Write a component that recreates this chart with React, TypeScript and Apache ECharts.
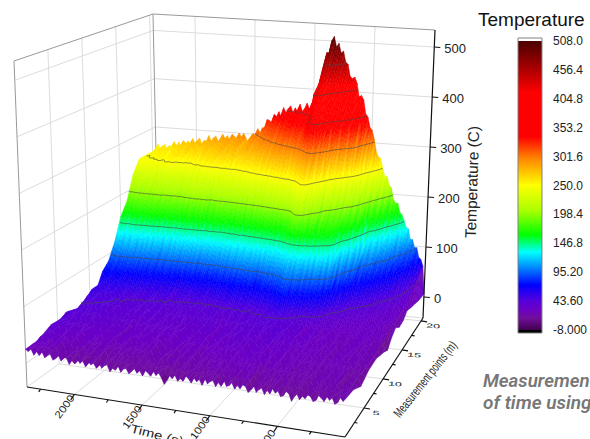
import React, { useEffect, useRef } from "react";
import * as echarts from "echarts";

const times = [0, 25, 100, 200, 300, 400, 500, 600, 700, 800, 850, 900, 960, 1000, 1100, 1200, 1300, 1400, 1500, 1650, 1800, 1950, 2100, 2250, 2350];
const points = [0, 2, 4, 6, 8, 10, 11, 12, 13, 14, 15, 16, 17, 18, 19, 20.5];
// one row per time, one value per measurement point
const temperature = [
  [21, 15, 11, 12, 13, 14, 15, 15, 16, 17, 18, 19, 20, 18, 12, 12],
  [20, 20, 20, 21, 22, 22, 24, 24, 25, 26, 28, 30, 34, 40, 50, 68],
  [18, 21, 22, 24, 25, 26, 28, 28, 30, 32, 35, 42, 50, 60, 74, 100],
  [16, 22, 24, 26, 26, 28, 30, 31, 34, 38, 42, 54, 68, 82, 100, 148],
  [15, 20, 22, 24, 25, 27, 29, 31, 36, 43, 56, 70, 86, 110, 138, 200],
  [14, 20, 23, 25, 26, 28, 30, 34, 40, 52, 68, 86, 112, 145, 188, 250],
  [15, 21, 24, 27, 28, 30, 34, 40, 58, 78, 102, 140, 172, 204, 240, 320],
  [15, 22, 26, 29, 32, 36, 42, 62, 87, 130, 160, 178, 198, 248, 320, 398],
  [15, 23, 27, 30, 34, 38, 44, 70, 98, 142, 165, 192, 232, 288, 365, 440],
  [16, 25, 29, 33, 37, 41, 50, 80, 112, 148, 192, 240, 292, 350, 402, 495],
  [15, 24, 29, 33, 38, 43, 58, 85, 112, 150, 228, 270, 312, 398, 432, 505],
  [16, 24, 28, 33, 37, 42, 58, 86, 112, 150, 230, 272, 310, 400, 430, 462],
  [16, 23, 28, 33, 38, 43, 50, 70, 98, 138, 182, 244, 290, 326, 346, 399],
  [16, 24, 28, 33, 37, 42, 47, 68, 96, 132, 172, 238, 280, 318, 338, 372],
  [15, 22, 27, 31, 36, 41, 46, 66, 90, 125, 165, 226, 272, 304, 336, 356],
  [14, 22, 26, 31, 35, 40, 45, 64, 88, 122, 160, 214, 262, 292, 322, 358],
  [15, 21, 27, 30, 35, 40, 45, 62, 85, 118, 156, 208, 252, 280, 306, 345],
  [15, 22, 26, 31, 34, 40, 44, 60, 82, 115, 152, 203, 244, 268, 288, 322],
  [15, 21, 26, 30, 34, 40, 43, 57, 78, 110, 147, 198, 236, 262, 280, 300],
  [14, 21, 27, 31, 35, 40, 44, 56, 78, 108, 148, 198, 232, 260, 276, 292],
  [15, 22, 28, 32, 36, 41, 45, 58, 80, 110, 150, 198, 228, 258, 272, 287],
  [16, 23, 29, 33, 37, 42, 47, 60, 82, 110, 150, 192, 222, 246, 264, 279],
  [17, 25, 30, 34, 38, 44, 50, 64, 84, 112, 155, 195, 222, 250, 262, 271],
  [20, 28, 34, 38, 42, 47, 54, 68, 88, 118, 158, 194, 225, 246, 254, 262],
  [24, 32, 38, 41, 43, 50, 55, 70, 86, 115, 152, 190, 222, 242, 249, 255],
];
// scatter along time (C), estimated from the jagged edges, time step 2350/118
const roughness = [
  2, -3, 4, -6, -9, 3, -2, 5, -5, 1, 6, -4, -7, 2, 5, -3, 1, -6, 4, -2,
  -11, 3, 6, -3, -6, 4, -1, 7, -4, 2, -7, 5, 1, -5, 8, -2, -8, 3, 5, -4,
  2, -6, 6, 0, -3, 9, -5, 2, -7, 4, 1, -4, 6, -8, 3, -2, 5, -6, 2, 7,
  -4, 0, -6, 5, -3, 2, -9, -17, -5, 4, -2, 6, -5, 1, 5, -7, 3, -3, 6, -1,
  -6, 4, 2, -5, 7, -3, 0, -8, 5, 2, -4, 6, -6, 3, -1, 5, -7, 4, -2, 6,
  -5, 1, -8, 4, 3, -4, 7, -2, -6, 5, 0, -5, 6, -3, 3, -6, 5, -2, 1,
];

const timeTicks = [500, 1000, 1500, 2000];
const timeMinor = [250, 750, 1250, 1750, 2250];
const pointTicks = [5, 10, 15, 20];
const pointMinor = [2.5, 7.5, 12.5, 17.5];
const tempTicks = [0, 100, 200, 300, 400, 500];
const contourLevels = [43.6, 95.2, 146.8, 198.4, 250, 301.6, 353.2, 404.8, 456.4];
const barTicks = [-8, 43.6, 95.2, 146.8, 198.4, 250, 301.6, 353.2, 404.8, 456.4, 508];
const barLabels = ["-8.000", "43.60", "95.20", "146.8", "198.4", "250.0", "301.6", "353.2", "404.8", "456.4", "508.0"];

const rampValues = [-8, 13, 28, 45, 72, 100, 131, 162, 205, 251, 300, 337, 415, 508];
const rampColors = ["#40004f", "#700f9a", "#6c00c4", "#5400dc", "#0000ff", "#0078ff", "#00ffff", "#00ff00", "#aaff00", "#ffff00", "#ff8000", "#ff0000", "#ff0000", "#4a0000"];

const T_MAX = 2350;
const V_MAX = 20.5;
const Z_MIN = -42;
const Z_MAX = 534;

// screen corners of the 3D box: [time end, point end]
const floorCorners = { f0: [345, 437], f1: [27, 387], b0: [423, 318], b1: [159, 292] };
const topCorners = { f0: [352, 97], f1: [14, 61], b0: [435, 30], b1: [153, 14] };

function project(t: number, v: number, temp: number): number[] {
  const u = t / T_MAX;
  const w = v / V_MAX;
  const z = (temp - Z_MIN) / (Z_MAX - Z_MIN);
  const bil = (c: any, k: number) =>
    (1 - u) * (1 - w) * c.f0[k] + u * (1 - w) * c.f1[k] + (1 - u) * w * c.b0[k] + u * w * c.b1[k];
  return [0, 1].map((k) => bil(floorCorners, k) * (1 - z) + bil(topCorners, k) * z);
}

const rgbs = rampColors.map((c) => [1, 3, 5].map((i) => parseInt(c.slice(i, i + 2), 16)));
function colorOf(val: number): string {
  const x = Math.max(-8, Math.min(508, val));
  let i = 0;
  while (i < rampValues.length - 2 && x > rampValues[i + 1]) i++;
  const f = (x - rampValues[i]) / (rampValues[i + 1] - rampValues[i]);
  const c = rgbs[i].map((a, k) => Math.round(a + (rgbs[i + 1][k] - a) * f));
  return `rgb(${c[0]},${c[1]},${c[2]})`;
}

// drawing grid: the table read along time at the steps of the roughness list
const STEPS = roughness.length - 1;
const drawTime = (k: number) => (k / STEPS) * T_MAX;
function tableAt(t: number, j: number): number {
  let i = 0;
  while (i < times.length - 2 && t > times[i + 1]) i++;
  const f = (t - times[i]) / (times[i + 1] - times[i]);
  return temperature[i][j] + (temperature[i + 1][j] - temperature[i][j]) * f;
}
function fieldAt(k: number, j: number, share: number): number {
  const b = tableAt(drawTime(k), j);
  const r = roughness[(k + j * 31) % roughness.length];
  return Math.max(-5, b + r * share * (0.85 + b / 900));
}

function lineSeries(segs: number[][], color: string, width: number) {
  return {
    type: "custom",
    coordinateSystem: "none",
    silent: true,
    data: segs,
    renderItem: (_p: any, api: any) => ({
      type: "line",
      shape: { x1: api.value(0), y1: api.value(1), x2: api.value(2), y2: api.value(3) },
      style: { stroke: color, lineWidth: width, fill: "none" },
    }),
  };
}

function seg(a: number[], b: number[]) {
  return [a[0], a[1], b[0], b[1]];
}

function buildOption() {
  // walls and floor
  const grid: number[][] = [];
  for (const t of timeTicks) {
    grid.push(seg(project(t, 0, Z_MIN), project(t, V_MAX, Z_MIN)));
    grid.push(seg(project(t, V_MAX, Z_MIN), project(t, V_MAX, Z_MAX)));
  }
  for (const v of pointTicks) {
    grid.push(seg(project(0, v, Z_MIN), project(T_MAX, v, Z_MIN)));
    grid.push(seg(project(T_MAX, v, Z_MIN), project(T_MAX, v, Z_MAX)));
  }
  for (const z of tempTicks) {
    grid.push(seg(project(T_MAX, 0, z), project(T_MAX, V_MAX, z)));
    grid.push(seg(project(T_MAX, V_MAX, z), project(0, V_MAX, z)));
  }
  grid.push(seg(project(T_MAX, 0, Z_MIN), project(T_MAX, V_MAX, Z_MIN)));
  grid.push(seg(project(T_MAX, V_MAX, Z_MIN), project(0, V_MAX, Z_MIN)));

  const frame = [
    seg(project(T_MAX, 0, Z_MIN), project(T_MAX, 0, Z_MAX)),
    seg(project(T_MAX, V_MAX, Z_MIN), project(T_MAX, V_MAX, Z_MAX)),
    seg(project(T_MAX, 0, Z_MAX), project(T_MAX, V_MAX, Z_MAX)),
    seg(project(T_MAX, V_MAX, Z_MAX), project(0, V_MAX, Z_MAX)),
  ];

  // axis lines with ticks
  const axes: number[][] = [
    seg(project(T_MAX, 0, Z_MIN), project(0, 0, Z_MIN)),
    seg(project(0, 0, Z_MIN), project(0, V_MAX, Z_MIN)),
    seg(project(0, V_MAX, Z_MIN), project(0, V_MAX, Z_MAX)),
  ];
  const tickT = (t: number, k: number) => {
    const a = project(t, 0, Z_MIN);
    return seg(a, [a[0] - 3.6 * k, a[1] + 5.4 * k]);
  };
  const tickV = (v: number, k: number) => {
    const a = project(0, v, Z_MIN);
    return seg(a, [a[0] + 6 * k, a[1] + 1 * k]);
  };
  timeTicks.forEach((t) => axes.push(tickT(t, 1)));
  timeMinor.forEach((t) => axes.push(tickT(t, 0.5)));
  pointTicks.forEach((v) => axes.push(tickV(v, 1)));
  pointMinor.forEach((v) => axes.push(tickV(v, 0.5)));
  tempTicks.forEach((z) => {
    const a = project(0, V_MAX, z);
    axes.push(seg(a, [a[0] + 6, a[1] + 0.5]));
  });

  // surface cells, far row first
  const cells: number[][] = [];
  for (let j = points.length - 2; j >= 0; j--) {
    for (let k = STEPS - 1; k >= 0; k--) cells.push([k, j]);
  }
  const surface = {
    type: "custom",
    coordinateSystem: "none",
    silent: true,
    data: cells,
    renderItem: (_p: any, api: any) => {
      const k = api.value(0);
      const j = api.value(1);
      const q00 = fieldAt(k, j, 1);
      const q10 = fieldAt(k + 1, j, 1);
      const q01 = fieldAt(k, j + 1, 1);
      const q11 = fieldAt(k + 1, j + 1, 1);
      const spread = Math.max(q00, q10, q01, q11) - Math.min(q00, q10, q01, q11);
      const nv = Math.max(1, Math.min(12, Math.ceil(spread / 9)));
      const at = (a: number, b: number) => {
        const val = (1 - a) * (1 - b) * q00 + a * (1 - b) * q10 + (1 - a) * b * q01 + a * b * q11;
        const t = drawTime(k) + (drawTime(k + 1) - drawTime(k)) * a;
        const v = points[j] + (points[j + 1] - points[j]) * b;
        return { p: project(t, v, val), val };
      };
      const children: any[] = [];
      for (let b = nv - 1; b >= 0; b--) {
        const c = colorOf(at(0.5, (b + 0.5) / nv).val);
        children.push({
          type: "polygon",
          shape: { points: [at(0, b / nv).p, at(1, b / nv).p, at(1, (b + 1) / nv).p, at(0, (b + 1) / nv).p] },
          style: { fill: c, stroke: c, lineWidth: 0.5 },
        });
      }
      return { type: "group", children };
    },
  };

  // contour segments
  const contourSegs: number[][] = [];
  for (let k = 0; k < STEPS; k++) {
    for (let j = 0; j < points.length - 1; j++) {
      const c = [
        [drawTime(k), points[j], fieldAt(k, j, 0.22)],
        [drawTime(k + 1), points[j], fieldAt(k + 1, j, 0.22)],
        [drawTime(k + 1), points[j + 1], fieldAt(k + 1, j + 1, 0.22)],
        [drawTime(k), points[j + 1], fieldAt(k, j + 1, 0.22)],
      ];
      for (const lv of contourLevels) {
        const hits: number[][] = [];
        for (let e = 0; e < 4; e++) {
          const a = c[e];
          const b = c[(e + 1) % 4];
          if ((a[2] < lv) !== (b[2] < lv)) {
            const f = (lv - a[2]) / (b[2] - a[2]);
            hits.push(project(a[0] + (b[0] - a[0]) * f, a[1] + (b[1] - a[1]) * f, lv));
          }
        }
        if (hits.length >= 2) contourSegs.push(seg(hits[0], hits[1]));
        if (hits.length === 4) contourSegs.push(seg(hits[2], hits[3]));
      }
    }
  }

  // texts
  const sans = "'Liberation Sans', Arial, sans-serif";
  const graphic: any[] = [];
  const text = (s: string, x: number, y: number, size: number, extra: any = {}, style: any = {}) =>
    graphic.push({
      type: "text",
      x,
      y,
      silent: true,
      ...extra,
      style: { text: s, font: `${size}px ${sans}`, fill: "#222", align: "center", verticalAlign: "middle", ...style },
    });
  tempTicks.forEach((z) => {
    const a = project(0, V_MAX, z);
    text(String(z), a[0] + 10, a[1] + 1, 13, {}, { align: "left" });
  });
  timeTicks.forEach((t) => {
    const a = project(t, 0, Z_MIN);
    text(String(t), a[0] - 10, a[1] + 12, 13, { rotation: 0.95, scaleX: 0.9, scaleY: 0.8 });
  });
  pointTicks.forEach((v) => {
    const a = project(0, v, Z_MIN);
    text(String(v), a[0] + 12, a[1] + 5, 10, { scaleX: 1.25, scaleY: 0.6, rotation: -0.08 });
  });
  text("Time (s)", 157, 435, 15, { rotation: -0.25, scaleX: 1, scaleY: 0.8 });
  text("Measurement points (m)", 425, 379, 13, { rotation: 0.9, scaleX: 0.66, scaleY: 1 });
  text("Temperature (C)", 472, 182, 15.4, { rotation: Math.PI / 2 - 0.03 });
  text("Temperature", 478, 19, 19, {}, { align: "left", fill: "#111" });
  text("Measuremen", 483, 381, 19, {}, { align: "left", font: "italic 600 18.7px Roboto, sans-serif", fill: "#777" });
  text("of time using", 483, 402, 19, {}, { align: "left", font: "italic 600 19px Roboto, sans-serif", fill: "#777" });

  return {
    animation: false,
    backgroundColor: "#fff",
    grid: { left: 518, top: 41, width: 28, height: 289, containLabel: false },
    xAxis: { type: "value", min: 0, max: 1, show: false },
    yAxis: {
      type: "value",
      position: "right",
      min: -8,
      max: 508,
      axisLine: { show: false },
      splitLine: { show: false },
      axisTick: { show: true, customValues: barTicks, length: 7, lineStyle: { color: "#555", width: 1 } },
      axisLabel: {
        show: true,
        customValues: barTicks,
        margin: 11,
        color: "#222",
        fontSize: 12,
        fontFamily: "Liberation Sans",
        formatter: (v: number) => barLabels[barTicks.indexOf(v)],
      },
    },
    graphic,
    series: [
      lineSeries(grid, "#dcdcdc", 1),
      lineSeries(frame, "#999999", 1),
      surface,
      lineSeries(contourSegs, "rgba(70,70,70,0.75)", 0.8),
      lineSeries(axes, "#111111", 1.2),
      {
        type: "custom",
        silent: true,
        clip: false,
        data: [[0, 508, 1, -8]],
        renderItem: (_p: any, api: any) => {
          const a = api.coord([api.value(0), api.value(1)]);
          const b = api.coord([api.value(2), api.value(3)]);
          const span = rampValues[rampValues.length - 1] - rampValues[0];
          const stops = rampValues
            .map((v, k) => ({ offset: (508 - v) / span, color: rampColors[k] }))
            .reverse();
          return {
            type: "group",
            children: [
              { type: "rect", shape: { x: a[0], y: a[1] - 3, width: b[0] - a[0], height: 3 }, style: { fill: "#fff" } },
              { type: "rect", shape: { x: a[0], y: b[1], width: b[0] - a[0], height: 3 }, style: { fill: "#000" } },
              {
                type: "rect",
                shape: { x: a[0], y: a[1], width: b[0] - a[0], height: b[1] - a[1] },
                style: { fill: new echarts.graphic.LinearGradient(0, 0, 0, 1, stops) },
              },
              {
                type: "rect",
                shape: { x: a[0], y: a[1] - 3, width: b[0] - a[0], height: b[1] - a[1] + 6 },
                style: { fill: "none", stroke: "#808080", lineWidth: 1 },
              },
            ],
          };
        },
      },
    ],
  };
}

export default function App() {
  const ref = useRef<HTMLDivElement>(null);
  useEffect(() => {
    const chart = echarts.init(ref.current as HTMLDivElement, undefined, { renderer: "svg" });
    chart.setOption(buildOption() as any);
    return () => chart.dispose();
  }, []);
  return <div ref={ref} style={{ position: "fixed", left: 0, top: 0, width: 590, height: 439 }} />;
}
